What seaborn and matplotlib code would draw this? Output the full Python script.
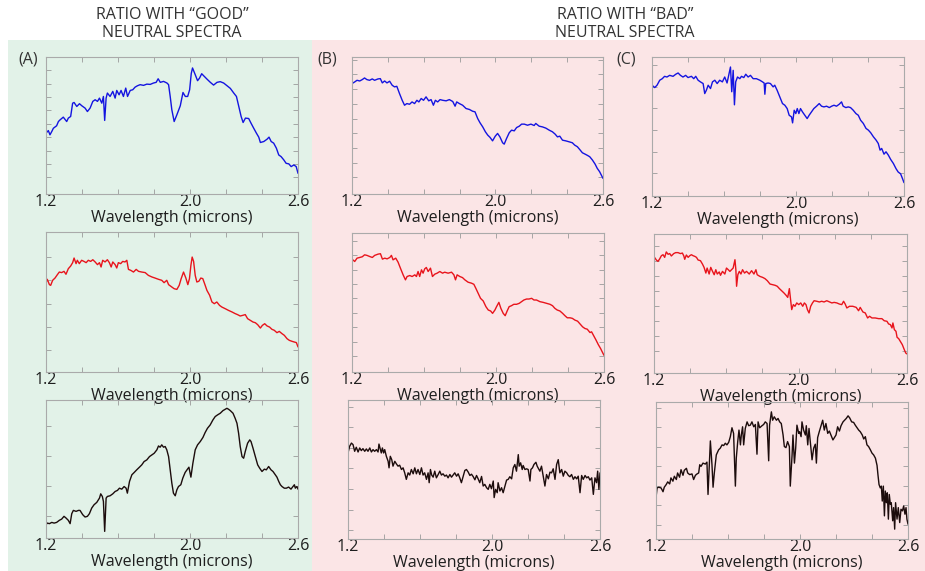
import matplotlib
matplotlib.use('Agg')
import matplotlib.pyplot as plt
import seaborn as sns
import numpy as np
import pandas as pd
from matplotlib.patches import Rectangle

sns.set_theme(style='white')
plt.rcParams['font.family'] = ['Open Sans', 'DejaVu Sans']

# ---------------- data (wavelength in microns, ratio in relative units) ----------------
x_tick_labels = ['1.2', '2.0', '2.6']
header_good = 'RATIO WITH \u201cGOOD\u201d\nNEUTRAL SPECTRA'
header_bad = 'RATIO WITH \u201cBAD\u201d\nNEUTRAL SPECTRA'
panel_labels = ['(A)', '(B)', '(C)']

a_top_wl = [1.200, 1.213, 1.222, 1.232, 1.241, 1.259, 1.269, 1.278, 1.296, 1.315, 1.324, 1.337,
            1.348, 1.356, 1.371, 1.386, 1.399, 1.417, 1.430, 1.445, 1.460, 1.473, 1.486, 1.497,
            1.510, 1.519, 1.526, 1.534, 1.541, 1.556, 1.571, 1.584, 1.593, 1.606, 1.617, 1.630,
            1.643, 1.653, 1.668, 1.682, 1.695, 1.708, 1.723, 1.742, 1.760, 1.779, 1.797, 1.812,
            1.823, 1.835, 1.853, 1.872, 1.881, 1.890, 1.899, 1.912, 1.927, 1.946, 1.961, 1.974,
            1.987, 1.998, 2.007, 2.014, 2.029, 2.042, 2.053, 2.065, 2.076, 2.094, 2.113, 2.131,
            2.150, 2.168, 2.187, 2.206, 2.224, 2.243, 2.258, 2.271, 2.284, 2.295, 2.308, 2.326,
            2.339, 2.354, 2.369, 2.382, 2.391, 2.410, 2.428, 2.439, 2.451, 2.465, 2.480, 2.493,
            2.506, 2.521, 2.534, 2.549, 2.562, 2.577, 2.590, 2.600]
a_top_ratio = [44.4, 46.3, 43.2, 45.6, 48.0, 49.8, 52.9, 54.1, 56.1, 52.9, 55.4, 56.6,
               66.3, 66.8, 63.9, 65.9, 64.4, 62.7, 60.2, 62.7, 67.6, 68.8, 67.6, 70.0,
               66.3, 71.2, 53.7, 70.0, 73.7, 71.2, 74.9, 70.0, 75.6, 72.4, 75.6, 71.2,
               77.3, 71.2, 75.6, 76.1, 78.0, 79.0, 79.8, 79.3, 80.2, 80.0, 81.0, 81.5,
               84.1, 81.5, 82.2, 81.0, 79.8, 71.2, 61.5, 52.9, 57.8, 64.4, 74.1, 71.2,
               71.2, 76.1, 88.0, 92.0, 87.1, 82.7, 84.6, 87.8, 86.3, 83.9, 81.5, 79.5,
               81.5, 82.0, 81.0, 79.0, 77.1, 73.7, 71.2, 63.9, 56.6, 52.2, 55.4, 55.1,
               51.7, 48.0, 44.4, 41.5, 37.6, 38.3, 40.0, 41.5, 38.3, 37.1, 33.4, 28.5,
               27.3, 24.9, 22.4, 22.0, 20.0, 21.2, 20.0, 15.1]

b_top_wl = [1.200, 1.215, 1.228, 1.243, 1.257, 1.270, 1.283, 1.298, 1.313, 1.326, 1.345, 1.358,
            1.369, 1.382, 1.395, 1.410, 1.424, 1.437, 1.450, 1.465, 1.480, 1.493, 1.506, 1.521,
            1.535, 1.549, 1.562, 1.573, 1.586, 1.599, 1.613, 1.628, 1.641, 1.654, 1.665, 1.678,
            1.691, 1.706, 1.725, 1.743, 1.762, 1.775, 1.784, 1.799, 1.817, 1.836, 1.855, 1.873,
            1.886, 1.901, 1.914, 1.929, 1.944, 1.957, 1.970, 1.984, 1.999, 2.012, 2.025, 2.040,
            2.049, 2.062, 2.077, 2.090, 2.105, 2.118, 2.133, 2.146, 2.161, 2.179, 2.198, 2.216,
            2.225, 2.244, 2.262, 2.281, 2.300, 2.318, 2.333, 2.346, 2.359, 2.374, 2.392, 2.411,
            2.429, 2.442, 2.457, 2.470, 2.485, 2.500, 2.513, 2.526, 2.541, 2.556, 2.568, 2.581,
            2.600]
b_top_ratio = [80.6, 81.8, 83.0, 82.5, 83.5, 84.7, 83.5, 83.0, 84.0, 83.0, 84.0, 84.2,
               81.1, 82.5, 81.1, 82.3, 79.4, 78.2, 78.6, 73.3, 68.4, 64.8, 66.0, 65.5,
               67.2, 66.0, 68.4, 67.2, 69.7, 68.4, 70.9, 68.0, 68.9, 64.8, 68.4, 67.2,
               68.9, 68.4, 68.0, 68.9, 67.5, 64.1, 67.2, 66.0, 64.8, 62.4, 61.7, 60.4,
               60.0, 55.1, 52.0, 49.0, 45.4, 43.0, 41.3, 38.8, 42.2, 44.2, 41.7, 37.4,
               36.4, 40.5, 44.7, 46.6, 46.1, 48.5, 49.5, 51.0, 51.0, 50.2, 51.0, 50.0,
               51.5, 49.5, 49.0, 48.1, 46.6, 45.4, 43.7, 41.7, 42.2, 39.3, 38.8, 38.1,
               37.4, 35.7, 34.5, 32.5, 30.1, 29.1, 28.2, 27.2, 24.8, 21.8, 18.7, 16.3,
               11.4]

c_top_wl = [1.200, 1.215, 1.228, 1.243, 1.257, 1.270, 1.283, 1.298, 1.317, 1.332, 1.345, 1.358,
            1.372, 1.387, 1.400, 1.419, 1.432, 1.443, 1.456, 1.469, 1.484, 1.493, 1.502, 1.512,
            1.525, 1.536, 1.549, 1.562, 1.576, 1.591, 1.604, 1.617, 1.628, 1.636, 1.643, 1.651,
            1.658, 1.665, 1.675, 1.688, 1.697, 1.710, 1.721, 1.734, 1.747, 1.762, 1.780, 1.799,
            1.814, 1.823, 1.827, 1.832, 1.845, 1.858, 1.873, 1.882, 1.895, 1.910, 1.925, 1.938,
            1.951, 1.962, 1.975, 1.981, 1.990, 1.999, 2.007, 2.016, 2.025, 2.036, 2.049, 2.062,
            2.073, 2.086, 2.099, 2.114, 2.129, 2.142, 2.155, 2.170, 2.185, 2.198, 2.211, 2.225,
            2.240, 2.253, 2.262, 2.277, 2.290, 2.303, 2.318, 2.333, 2.346, 2.359, 2.374, 2.389,
            2.402, 2.415, 2.430, 2.445, 2.457, 2.467, 2.476, 2.489, 2.500, 2.513, 2.526, 2.541,
            2.556, 2.568, 2.581, 2.592, 2.600]
c_top_ratio = [79.7, 78.0, 79.7, 83.3, 84.4, 86.1, 85.6, 86.8, 86.1, 87.6, 88.5, 86.8,
               85.6, 86.8, 85.2, 86.1, 84.4, 86.1, 83.3, 82.1, 80.9, 73.7, 76.1, 79.7,
               77.3, 82.1, 83.3, 80.9, 83.3, 82.1, 85.6, 81.3, 88.0, 92.8, 75.0, 90.4,
               65.6, 82.1, 85.6, 84.4, 86.1, 85.2, 87.6, 85.6, 86.8, 84.4, 84.4, 83.3,
               82.1, 81.3, 73.2, 80.9, 81.3, 80.9, 78.5, 79.7, 76.1, 71.3, 66.5, 65.3,
               62.9, 58.1, 56.9, 52.6, 61.7, 59.3, 62.9, 59.3, 62.9, 60.5, 58.1, 55.7,
               58.1, 60.5, 62.9, 64.6, 66.5, 64.6, 64.1, 64.6, 63.6, 64.6, 65.3, 64.6,
               66.0, 67.7, 64.6, 63.6, 64.1, 63.6, 61.7, 59.3, 58.1, 54.5, 52.2, 48.6,
               47.4, 45.5, 42.6, 40.2, 37.8, 33.0, 34.2, 30.1, 31.8, 29.4, 26.3, 23.4,
               19.6, 17.2, 16.0, 12.4, 9.6]

a_mid_wl = [1.200, 1.207, 1.219, 1.226, 1.237, 1.250, 1.263, 1.274, 1.287, 1.300, 1.311, 1.324,
            1.337, 1.348, 1.356, 1.367, 1.374, 1.385, 1.398, 1.411, 1.423, 1.435, 1.448, 1.460,
            1.473, 1.486, 1.497, 1.506, 1.515, 1.528, 1.541, 1.552, 1.562, 1.571, 1.584, 1.593,
            1.602, 1.615, 1.626, 1.639, 1.649, 1.658, 1.671, 1.686, 1.701, 1.714, 1.732, 1.751,
            1.769, 1.788, 1.806, 1.825, 1.843, 1.856, 1.871, 1.881, 1.899, 1.912, 1.927, 1.940,
            1.951, 1.964, 1.977, 1.988, 1.997, 2.005, 2.012, 2.020, 2.029, 2.038, 2.049, 2.060,
            2.071, 2.083, 2.094, 2.109, 2.122, 2.135, 2.149, 2.164, 2.177, 2.196, 2.214, 2.233,
            2.251, 2.264, 2.279, 2.294, 2.307, 2.320, 2.335, 2.350, 2.363, 2.376, 2.391, 2.402,
            2.415, 2.428, 2.442, 2.455, 2.468, 2.483, 2.496, 2.511, 2.524, 2.539, 2.552, 2.567,
            2.580, 2.591, 2.600]
a_mid_ratio = [63.8, 66.2, 62.4, 61.9, 65.5, 67.1, 69.5, 71.4, 71.0, 71.9, 69.8, 73.8,
               75.7, 78.1, 81.4, 77.4, 79.8, 77.4, 79.8, 79.0, 78.1, 79.8, 79.0, 80.2,
               78.6, 76.7, 78.1, 75.0, 79.8, 78.6, 80.2, 78.1, 75.0, 78.6, 76.7, 74.3,
               78.1, 77.4, 79.0, 78.6, 79.8, 73.3, 72.6, 71.4, 73.3, 71.9, 71.4, 71.0,
               69.0, 67.9, 67.1, 66.2, 65.5, 63.8, 65.5, 62.4, 60.7, 59.5, 59.0, 61.9,
               66.7, 71.4, 67.1, 62.4, 66.7, 76.2, 82.1, 79.0, 69.0, 64.3, 64.8, 67.1,
               66.7, 62.4, 58.3, 54.8, 50.0, 48.8, 50.0, 47.6, 46.4, 45.2, 44.0, 42.9,
               41.7, 41.0, 40.0, 40.5, 41.0, 38.1, 36.9, 35.7, 35.2, 33.8, 31.4, 33.3,
               34.5, 32.9, 32.1, 30.5, 29.8, 28.1, 29.0, 27.4, 26.2, 23.8, 22.6, 21.9,
               21.4, 21.0, 17.9]

b_mid_wl = [1.200, 1.215, 1.228, 1.243, 1.257, 1.270, 1.283, 1.298, 1.313, 1.326, 1.345, 1.358,
            1.369, 1.382, 1.395, 1.410, 1.419, 1.428, 1.443, 1.456, 1.469, 1.484, 1.497, 1.506,
            1.521, 1.534, 1.549, 1.558, 1.567, 1.576, 1.586, 1.595, 1.604, 1.613, 1.623, 1.636,
            1.647, 1.660, 1.673, 1.688, 1.703, 1.715, 1.734, 1.753, 1.766, 1.775, 1.784, 1.799,
            1.814, 1.827, 1.845, 1.864, 1.877, 1.888, 1.901, 1.914, 1.929, 1.944, 1.957, 1.970,
            1.981, 1.994, 2.003, 2.016, 2.027, 2.040, 2.051, 2.062, 2.073, 2.086, 2.099, 2.114,
            2.129, 2.142, 2.155, 2.170, 2.183, 2.198, 2.211, 2.225, 2.244, 2.262, 2.281, 2.300,
            2.314, 2.327, 2.340, 2.355, 2.370, 2.383, 2.396, 2.411, 2.424, 2.439, 2.453, 2.466,
            2.481, 2.494, 2.507, 2.522, 2.531, 2.541, 2.556, 2.568, 2.581, 2.592, 2.600]
b_mid_ratio = [81.2, 79.5, 81.9, 82.4, 82.9, 84.3, 83.9, 83.1, 82.4, 83.9, 84.8, 85.1,
               81.2, 81.9, 81.4, 82.4, 83.9, 80.7, 81.9, 79.0, 74.7, 69.9, 66.3, 68.7,
               69.4, 68.7, 69.9, 68.7, 72.3, 68.7, 73.5, 71.1, 74.2, 75.2, 72.3, 74.7,
               68.7, 70.4, 71.1, 72.3, 71.1, 71.8, 71.1, 71.8, 69.9, 66.3, 69.9, 68.7,
               67.9, 66.3, 64.6, 63.9, 63.1, 60.2, 56.6, 53.0, 51.1, 47.0, 44.6, 43.9,
               42.2, 44.6, 47.0, 50.1, 45.8, 42.2, 40.5, 43.9, 47.0, 47.7, 48.7, 48.7,
               49.4, 50.6, 51.8, 52.5, 52.5, 53.0, 51.8, 51.8, 50.6, 50.1, 49.4, 48.7,
               47.7, 45.8, 44.6, 43.9, 42.2, 40.5, 39.0, 39.0, 38.6, 37.3, 36.6, 34.7,
               32.5, 31.3, 30.8, 28.4, 28.9, 26.5, 22.9, 19.8, 16.9, 14.0, 12.0]

c_mid_wl = [1.200, 1.213, 1.222, 1.231, 1.241, 1.250, 1.259, 1.268, 1.278, 1.287, 1.296, 1.309,
            1.320, 1.333, 1.346, 1.357, 1.365, 1.370, 1.379, 1.389, 1.398, 1.407, 1.416, 1.426,
            1.435, 1.444, 1.457, 1.468, 1.477, 1.487, 1.494, 1.505, 1.514, 1.524, 1.533, 1.542,
            1.550, 1.561, 1.568, 1.579, 1.592, 1.601, 1.611, 1.620, 1.629, 1.638, 1.648, 1.653,
            1.657, 1.664, 1.672, 1.681, 1.690, 1.701, 1.712, 1.727, 1.740, 1.753, 1.764, 1.771,
            1.786, 1.801, 1.814, 1.827, 1.842, 1.857, 1.870, 1.882, 1.894, 1.906, 1.919, 1.931,
            1.940, 1.949, 1.956, 1.962, 1.971, 1.980, 1.990, 2.001, 2.012, 2.023, 2.032, 2.041,
            2.049, 2.058, 2.067, 2.077, 2.086, 2.101, 2.115, 2.128, 2.141, 2.156, 2.171, 2.184,
            2.197, 2.212, 2.226, 2.239, 2.249, 2.258, 2.267, 2.282, 2.300, 2.319, 2.332, 2.341,
            2.356, 2.369, 2.382, 2.393, 2.406, 2.424, 2.443, 2.461, 2.474, 2.489, 2.498, 2.508,
            2.517, 2.522, 2.530, 2.539, 2.545, 2.554, 2.563, 2.574, 2.585, 2.593, 2.600]
c_mid_ratio = [83.7, 81.3, 80.3, 82.0, 84.4, 85.1, 83.2, 87.1, 85.4, 85.9, 84.2, 85.9,
               86.6, 86.6, 85.9, 86.3, 84.2, 81.8, 84.9, 83.2, 84.4, 85.1, 84.4, 83.9,
               83.2, 81.3, 80.8, 78.4, 76.0, 71.9, 75.5, 71.2, 76.0, 73.1, 70.7, 74.3,
               71.2, 72.7, 70.3, 73.1, 71.2, 75.5, 74.3, 73.1, 74.3, 75.5, 81.5, 74.3,
               62.4, 70.7, 73.1, 71.2, 74.3, 71.9, 73.1, 71.2, 73.6, 71.2, 74.3, 70.7,
               69.5, 68.8, 67.9, 66.4, 64.0, 63.5, 63.1, 62.4, 60.7, 59.2, 57.6, 55.9,
               54.4, 60.7, 52.8, 45.6, 49.2, 48.0, 50.4, 49.2, 50.4, 48.0, 50.4, 49.2,
               45.6, 43.2, 48.0, 50.4, 52.0, 51.6, 51.1, 51.6, 51.1, 52.0, 51.1, 50.4,
               50.8, 50.4, 49.6, 49.2, 51.6, 49.6, 46.8, 48.0, 48.0, 47.2, 44.8, 47.2,
               43.9, 43.2, 39.6, 40.8, 39.6, 39.6, 39.1, 39.1, 37.6, 37.2, 35.3, 34.8,
               32.4, 36.0, 31.2, 30.0, 25.7, 24.7, 22.8, 20.4, 16.8, 14.4, 13.7]

a_bot_wl = [1.200, 1.207, 1.219, 1.232, 1.245, 1.259, 1.274, 1.287, 1.300, 1.311, 1.324, 1.334,
            1.343, 1.352, 1.367, 1.380, 1.389, 1.404, 1.417, 1.430, 1.441, 1.454, 1.467, 1.482,
            1.497, 1.504, 1.513, 1.519, 1.526, 1.534, 1.541, 1.556, 1.571, 1.584, 1.597, 1.608,
            1.621, 1.634, 1.645, 1.652, 1.664, 1.677, 1.690, 1.704, 1.719, 1.732, 1.745, 1.760,
            1.775, 1.788, 1.801, 1.816, 1.825, 1.834, 1.843, 1.853, 1.862, 1.871, 1.881, 1.890,
            1.899, 1.908, 1.918, 1.927, 1.936, 1.949, 1.960, 1.973, 1.986, 1.994, 2.005, 2.016,
            2.029, 2.042, 2.057, 2.072, 2.084, 2.097, 2.112, 2.127, 2.140, 2.153, 2.168, 2.183,
            2.196, 2.205, 2.214, 2.224, 2.239, 2.251, 2.261, 2.270, 2.279, 2.289, 2.298, 2.307,
            2.320, 2.332, 2.339, 2.350, 2.363, 2.376, 2.387, 2.400, 2.413, 2.424, 2.437, 2.450,
            2.461, 2.474, 2.483, 2.493, 2.502, 2.511, 2.524, 2.535, 2.548, 2.561, 2.572, 2.580,
            2.585, 2.594, 2.600]
a_bot_ratio = [9.6, 10.8, 10.4, 11.3, 10.8, 11.3, 12.8, 13.7, 15.7, 14.5, 12.8, 10.4,
               17.6, 20.0, 19.3, 20.0, 20.0, 16.9, 15.2, 15.7, 17.6, 21.7, 24.1, 25.8,
               28.9, 32.0, 30.1, 26.5, 4.8, 28.9, 30.1, 30.6, 32.0, 33.7, 34.5, 36.1,
               35.4, 37.3, 36.1, 32.5, 41.0, 45.8, 47.5, 49.4, 51.3, 53.0, 55.4, 56.6,
               59.0, 60.2, 61.4, 63.9, 66.7, 65.8, 67.5, 65.8, 66.3, 63.9, 59.0, 49.4,
               39.8, 32.5, 30.6, 34.9, 37.3, 38.6, 43.4, 47.5, 49.9, 51.3, 44.1, 54.2,
               63.9, 67.5, 69.9, 72.9, 76.4, 79.5, 81.9, 85.5, 88.0, 89.2, 90.4, 92.3,
               93.3, 94.0, 93.3, 92.3, 90.4, 86.7, 83.1, 75.9, 66.3, 59.0, 57.8, 62.7,
               68.7, 71.1, 69.9, 65.1, 59.0, 53.0, 50.6, 48.2, 49.9, 49.4, 51.8, 49.4,
               48.2, 45.8, 44.1, 41.0, 38.6, 37.3, 36.1, 36.1, 36.9, 35.4, 37.3, 38.6,
               36.1, 37.3, 35.4]

b_bot_wl = [1.200, 1.209, 1.219, 1.228, 1.237, 1.246, 1.256, 1.265, 1.274, 1.283, 1.293, 1.302,
            1.311, 1.321, 1.330, 1.339, 1.348, 1.358, 1.367, 1.372, 1.380, 1.385, 1.391, 1.398,
            1.404, 1.413, 1.423, 1.428, 1.435, 1.443, 1.450, 1.460, 1.469, 1.478, 1.487, 1.497,
            1.506, 1.515, 1.524, 1.534, 1.543, 1.552, 1.562, 1.571, 1.580, 1.589, 1.599, 1.608,
            1.617, 1.626, 1.636, 1.645, 1.651, 1.658, 1.665, 1.673, 1.682, 1.691, 1.701, 1.710,
            1.719, 1.728, 1.738, 1.747, 1.756, 1.766, 1.775, 1.784, 1.793, 1.803, 1.812, 1.821,
            1.830, 1.840, 1.849, 1.858, 1.868, 1.877, 1.886, 1.895, 1.905, 1.914, 1.923, 1.932,
            1.942, 1.951, 1.960, 1.970, 1.979, 1.988, 1.997, 2.007, 2.012, 2.020, 2.029, 2.034,
            2.044, 2.053, 2.062, 2.072, 2.081, 2.090, 2.099, 2.109, 2.118, 2.127, 2.136, 2.146,
            2.151, 2.159, 2.168, 2.173, 2.183, 2.192, 2.201, 2.211, 2.216, 2.225, 2.233, 2.244,
            2.251, 2.259, 2.266, 2.275, 2.285, 2.294, 2.303, 2.313, 2.322, 2.331, 2.340, 2.350,
            2.359, 2.368, 2.377, 2.387, 2.396, 2.405, 2.415, 2.424, 2.433, 2.442, 2.452, 2.461,
            2.470, 2.479, 2.489, 2.498, 2.507, 2.517, 2.526, 2.535, 2.544, 2.554, 2.563, 2.572,
            2.581, 2.587, 2.594, 2.600]
b_bot_ratio = [61.9, 66.7, 69.0, 67.9, 63.1, 66.0, 62.6, 65.5, 63.6, 65.0, 63.1, 64.8,
               63.1, 65.5, 62.6, 64.3, 63.1, 64.3, 62.6, 68.3, 64.3, 61.9, 65.5, 61.9,
               64.3, 59.5, 55.9, 51.2, 59.5, 57.1, 52.4, 55.9, 54.0, 52.4, 53.1, 50.0,
               51.2, 47.6, 42.9, 47.6, 46.0, 50.0, 46.9, 51.2, 46.9, 50.0, 46.4, 51.2,
               46.0, 47.6, 42.9, 47.6, 40.5, 50.0, 46.0, 44.5, 48.8, 44.0, 46.4, 48.8,
               46.0, 46.9, 45.2, 46.0, 44.0, 46.4, 44.5, 46.0, 47.6, 45.2, 46.9, 44.0,
               40.5, 45.2, 49.3, 50.0, 48.1, 45.7, 46.6, 45.0, 42.6, 45.7, 43.3, 40.5,
               45.0, 38.1, 39.3, 36.9, 35.7, 39.3, 36.2, 41.7, 29.8, 35.7, 33.3, 40.5,
               34.5, 36.9, 33.3, 38.1, 42.4, 42.9, 44.8, 43.3, 51.2, 53.6, 48.8, 60.7,
               52.4, 54.8, 50.0, 52.9, 50.0, 50.5, 50.0, 41.7, 50.0, 51.2, 53.6, 55.2,
               52.4, 50.5, 48.8, 52.4, 44.8, 38.1, 46.4, 43.3, 48.1, 47.6, 50.5, 42.9,
               53.6, 57.1, 47.6, 50.0, 45.2, 48.8, 47.6, 45.7, 44.8, 46.4, 42.9, 44.8,
               43.3, 45.2, 33.3, 45.7, 42.9, 45.7, 44.0, 44.8, 42.4, 44.0, 32.1, 44.0,
               40.5, 48.8, 35.7, 47.6]

c_bot_wl = [1.200, 1.206, 1.215, 1.228, 1.239, 1.246, 1.257, 1.265, 1.276, 1.283, 1.294, 1.302,
            1.313, 1.320, 1.331, 1.339, 1.350, 1.357, 1.369, 1.376, 1.387, 1.400, 1.409, 1.419,
            1.428, 1.437, 1.443, 1.450, 1.461, 1.474, 1.483, 1.489, 1.496, 1.502, 1.511, 1.517,
            1.524, 1.535, 1.548, 1.557, 1.567, 1.576, 1.585, 1.594, 1.604, 1.613, 1.622, 1.631,
            1.641, 1.646, 1.654, 1.661, 1.669, 1.674, 1.681, 1.687, 1.696, 1.706, 1.715, 1.724,
            1.733, 1.743, 1.752, 1.761, 1.767, 1.776, 1.789, 1.798, 1.807, 1.817, 1.826, 1.831,
            1.841, 1.848, 1.857, 1.869, 1.878, 1.887, 1.896, 1.906, 1.913, 1.922, 1.931, 1.941,
            1.946, 1.956, 1.961, 1.969, 1.976, 1.983, 1.993, 1.998, 2.006, 2.011, 2.020, 2.030,
            2.035, 2.043, 2.050, 2.057, 2.067, 2.076, 2.085, 2.091, 2.098, 2.107, 2.117, 2.126,
            2.135, 2.144, 2.154, 2.163, 2.172, 2.183, 2.191, 2.200, 2.209, 2.219, 2.228, 2.239,
            2.248, 2.257, 2.267, 2.276, 2.287, 2.298, 2.307, 2.317, 2.326, 2.335, 2.346, 2.354,
            2.363, 2.372, 2.381, 2.391, 2.400, 2.409, 2.419, 2.428, 2.433, 2.439, 2.446, 2.452,
            2.457, 2.463, 2.469, 2.474, 2.480, 2.485, 2.491, 2.496, 2.502, 2.507, 2.515, 2.520,
            2.526, 2.531, 2.539, 2.546, 2.554, 2.561, 2.569, 2.576, 2.583, 2.589, 2.594, 2.600]
c_bot_ratio = [30.1, 37.3, 37.8, 37.3, 34.5, 37.8, 39.8, 41.7, 40.2, 44.6, 42.2, 45.8,
               43.4, 48.2, 45.1, 50.6, 46.5, 50.1, 51.6, 48.2, 47.0, 47.5, 43.4, 46.5,
               47.5, 48.2, 54.2, 53.0, 55.4, 54.7, 56.1, 32.5, 54.2, 71.6, 54.2, 37.8,
               48.2, 61.4, 65.1, 66.3, 68.7, 68.2, 69.9, 68.7, 70.6, 74.7, 81.2, 77.1,
               38.6, 59.0, 71.1, 79.5, 68.7, 75.9, 81.9, 68.7, 80.7, 85.5, 82.7, 83.1,
               85.5, 81.9, 83.6, 61.9, 85.5, 81.2, 82.7, 83.6, 85.5, 84.3, 57.1, 83.1,
               92.8, 86.7, 89.2, 86.7, 88.0, 85.5, 84.3, 75.9, 67.5, 66.7, 71.1, 67.5,
               38.6, 61.4, 75.9, 55.4, 66.3, 83.1, 77.1, 78.3, 74.7, 85.5, 79.5, 75.9,
               82.7, 68.7, 80.7, 71.1, 57.8, 66.3, 69.2, 55.4, 74.0, 78.3, 82.7, 86.7,
               79.5, 84.3, 77.1, 78.8, 75.9, 72.3, 74.0, 75.9, 81.9, 78.8, 82.7, 85.5,
               86.7, 88.0, 89.9, 88.4, 85.5, 85.1, 83.1, 81.2, 79.5, 78.3, 75.9, 73.0,
               74.7, 68.7, 67.5, 65.1, 62.7, 61.4, 59.0, 53.7, 47.0, 39.8, 37.3, 38.6,
               27.7, 38.6, 16.9, 35.0, 26.5, 33.7, 14.5, 32.5, 25.3, 26.5, 13.3, 22.9,
               7.2, 26.5, 14.5, 22.9, 12.0, 21.7, 20.5, 24.1, 18.1, 22.9, 14.5, 10.8]

# ---------------- styling / layout ----------------
BLUE = '#1414e0'
RED = '#e8141c'
BLACK = '#1c0c0c'
GREEN_BG = '#e2f2e8'
PINK_BG = '#fbe5e6'
TEXT = '#1e1e1e'
W, H = 925, 571

# (wl, ratio, colour, panel rect in px: left, right, top, bottom, first y tick, y tick step)
panels = [
    (a_top_wl, a_top_ratio, BLUE, (46, 298, 57, 194), 12.2, 9.75),
    (b_top_wl, b_top_ratio, BLUE, (352, 603, 57, 194), 12.1, 10.75),
    (c_top_wl, c_top_ratio, BLUE, (652, 904, 57, 196), 16.3, 15.6),
    (a_mid_wl, a_mid_ratio, RED, (46, 298, 232, 372), 15.5, 16.7),
    (b_mid_wl, b_mid_ratio, RED, (352, 604, 233, 372), 11.3, 10.4),
    (c_mid_wl, c_mid_ratio, RED, (654, 907, 234, 373), 15.6, 10.8),
    (a_bot_wl, a_bot_ratio, BLACK, (46, 298, 400, 538), 16.1, 21.7),
    (b_bot_wl, b_bot_ratio, BLACK, (348, 600, 400, 539), 6.4, 14.8),
    (c_bot_wl, c_bot_ratio, BLACK, (656, 908, 402, 539), 10.4, 14.2),
]

fig = plt.figure(figsize=(W / 100, H / 100), dpi=100)
fig.patch.set_facecolor('white')
fig.patches.append(Rectangle((8 / W, 0), (312 - 8) / W, (H - 40) / H, transform=fig.transFigure,
                             facecolor=GREEN_BG, edgecolor='none', zorder=-10))
fig.patches.append(Rectangle((312 / W, 0), (W - 312) / W, (H - 40) / H, transform=fig.transFigure,
                             facecolor=PINK_BG, edgecolor='none', zorder=-10))

for wl, ratio, color, (l, r, t, b), y0, ystep in panels:
    ax = fig.add_axes([l / W, 1 - b / H, (r - l) / W, (b - t) / H])
    ax.set_facecolor('none')
    df = pd.DataFrame({'wl': wl, 'ratio': ratio})
    sns.lineplot(data=df, x='wl', y='ratio', ax=ax, color=color, lw=1.0,
                 estimator=None, sort=False)
    ax.set_xlim(1.2, 2.6)
    ax.set_ylim(0, 100)
    ax.set_xticks([1.2, 2.0, 2.6])
    ax.set_xticklabels(x_tick_labels)
    ax.set_xticks([1.4, 1.6, 1.8, 2.2, 2.4], minor=True)
    ax.set_yticks(np.arange(y0, 99, ystep))
    ax.set_yticklabels([])
    ax.tick_params(which='both', direction='in', top=True, right=True, bottom=True, left=True,
                   length=3.5, width=0.6, color='#9a9a9a')
    ax.tick_params(axis='x', labelsize=11.5, pad=0, labelcolor=TEXT)
    for s in ax.spines.values():
        s.set_color('#aaaaaa')
        s.set_linewidth(0.8)
    ax.set_xlabel('Wavelength (microns)', fontsize=11.5, labelpad=0, color=TEXT)
    ax.set_ylabel('')

fig.text(172 / W, 1 - 24 / H, header_good, ha='center', va='center', fontsize=11.5,
         linespacing=1.15, color='#333333')
fig.text(625 / W, 1 - 24 / H, header_bad, ha='center', va='center', fontsize=11.5,
         linespacing=1.15, color='#333333')
for lab, xc in zip(panel_labels, [28, 327, 626]):
    fig.text(xc / W, 1 - 59 / H, lab, ha='center', va='center', fontsize=11.5, color='#333333')

fig.savefig('out.png', dpi=100)
